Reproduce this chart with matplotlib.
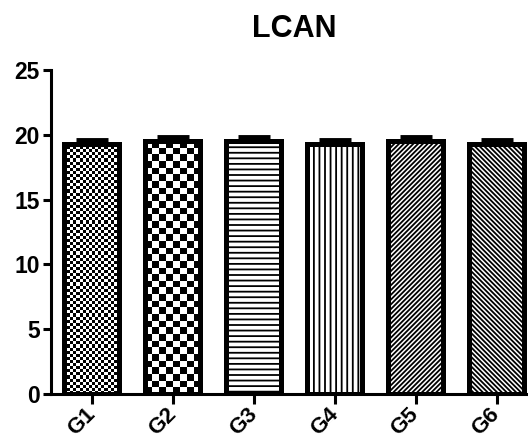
import numpy as np
import matplotlib
matplotlib.use('Agg')
import matplotlib.pyplot as plt

groups = ['G1', 'G2', 'G3', 'G4', 'G5', 'G6']
means = [19.3, 19.5, 19.5, 19.3, 19.5, 19.3]
sems = [0.3, 0.3, 0.3, 0.3, 0.3, 0.3]
yticks = [0, 5, 10, 15, 20, 25]
title = 'LCAN'

plt.rcParams['font.family'] = ['Liberation Sans', 'DejaVu Sans']
plt.rcParams['font.weight'] = 'bold'
plt.rcParams['hatch.linewidth'] = 1.3
plt.rcParams['hatch.color'] = 'black'

W, H = 528, 444
fig = plt.figure(figsize=(W / 100, H / 100), dpi=100)
ax = fig.add_axes([51 / W, 50 / H, 486 / W, 324 / H])
xlim = (-0.506, 5.5)
ax.set_xlim(*xlim)
ax.set_ylim(0, 25)

x = np.arange(len(groups))
bw = 0.68
hatches = [None, None, '---', '|||', '///////', '\\\\\\\\\\\\\\']
checker_px = [3.1, 6.6, None, None, None, None]

bars = ax.bar(x, means, width=bw, color='white', edgecolor='black',
              linewidth=3.6, zorder=2)
for b, h in zip(bars, hatches):
    if h:
        b.set_hatch(h)

px_per_x = 486 / (xlim[1] - xlim[0])
px_per_y = 324 / 25
for i, (b, c) in enumerate(zip(bars, checker_px)):
    if c is None:
        continue
    l = x[i] - bw / 2
    r = x[i] + bw / 2
    ncols = max(1, int(round(bw * px_per_x / c)))
    nrows = max(1, int(round(means[i] * px_per_y / c)))
    arr = np.add.outer(np.arange(nrows), np.arange(ncols)) % 2
    im = ax.imshow(arr, cmap='gray', extent=(l, r, 0, means[i]), origin='lower',
                   interpolation='nearest', aspect='auto', zorder=2.5)
    im.set_clip_path(b)

ax.bar(x, means, width=bw, fill=False, edgecolor='black', linewidth=3.6, zorder=3)
ax.errorbar(x, means, yerr=[np.zeros(len(x)), sems], fmt='none', ecolor='black',
            elinewidth=3, capsize=11.5, capthick=3.5, zorder=3)

ax.set_xlim(*xlim)
ax.set_ylim(0, 25)
ax.set_yticks(yticks)
ax.set_xticks(x)
ax.set_xticklabels(groups, rotation=45, ha='right', va='center',
                   rotation_mode='anchor')
for s in ['top', 'right']:
    ax.spines[s].set_visible(False)
for s in ['left', 'bottom']:
    ax.spines[s].set_linewidth(2.2)
ax.tick_params(axis='y', width=2.2, length=6, labelsize=16.5, pad=2)
ax.tick_params(axis='x', width=2.2, length=7, labelsize=16, pad=5)
ax.set_title(title, fontsize=22, fontweight='bold', pad=24)

fig.savefig('out.png', dpi=100)
